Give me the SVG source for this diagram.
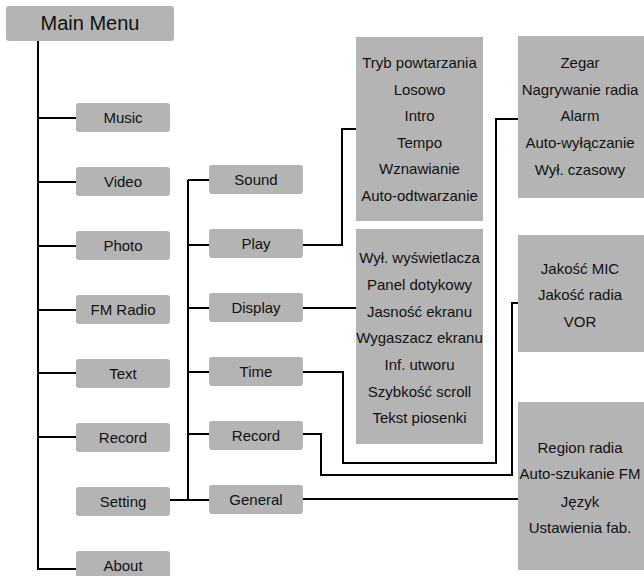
<svg xmlns="http://www.w3.org/2000/svg" width="644" height="576" viewBox="0 0 644 576">
  <style>
    .node { fill: #b4b4b4; }
    .lbl { font-family: "Liberation Sans", Arial, sans-serif; fill: #111; text-anchor: middle; }
    .t1 { font-size: 20px; }
    .t2 { font-size: 15px; }
    .t3 { font-size: 15px; }
    .wire { fill: none; stroke: #000; stroke-width: 2; }
  </style>
  <rect width="644" height="576" fill="#fff"/>

  <!-- connectors -->
  <g id="connectors" class="wire">
    <!-- main trunk -->
    <path d="M38,41 V569 H76"/>
    <path d="M38,118 H76 M38,182 H76 M38,246 H76 M38,310 H76 M38,373 H76 M38,437 H76"/>
    <!-- Setting trunk -->
    <path d="M170,500 H209"/>
    <path d="M188,180 V500"/>
    <path d="M188,180 H209 M188,245 H209 M188,308 H209 M188,372 H209 M188,434 H209"/>
    <!-- Play -> playback options -->
    <path d="M303,245 H342 V129 H357"/>
    <!-- Display -> display options -->
    <path d="M303,308 H357"/>
    <!-- Time -> clock options -->
    <path d="M303,372 H343 V463 H496 V119 H518"/>
    <!-- Record -> recording options -->
    <path d="M303,434 H321 V475 H512 V303 H518"/>
    <!-- General -> general options -->
    <path d="M303,499 H518"/>
  </g>

  <!-- root -->
  <g id="main-menu">
    <rect class="node" x="6" y="6" width="168" height="35" rx="3"/>
    <text class="lbl t1" x="90" y="30">Main Menu</text>
  </g>

  <!-- first level -->
  <g id="music">
    <rect class="node" x="76" y="103" width="94" height="29" rx="3"/>
    <text class="lbl t2" x="123" y="123">Music</text>
  </g>
  <g id="video">
    <rect class="node" x="76" y="167" width="94" height="29" rx="3"/>
    <text class="lbl t2" x="123" y="187">Video</text>
  </g>
  <g id="photo">
    <rect class="node" x="76" y="231" width="94" height="29" rx="3"/>
    <text class="lbl t2" x="123" y="251">Photo</text>
  </g>
  <g id="fm-radio">
    <rect class="node" x="76" y="295" width="94" height="29" rx="3"/>
    <text class="lbl t2" x="123" y="315">FM Radio</text>
  </g>
  <g id="text">
    <rect class="node" x="76" y="359" width="94" height="29" rx="3"/>
    <text class="lbl t2" x="123" y="379">Text</text>
  </g>
  <g id="record">
    <rect class="node" x="76" y="423" width="94" height="29" rx="3"/>
    <text class="lbl t2" x="123" y="443">Record</text>
  </g>
  <g id="setting">
    <rect class="node" x="76" y="487" width="94" height="29" rx="3"/>
    <text class="lbl t2" x="123" y="507">Setting</text>
  </g>
  <g id="about">
    <rect class="node" x="76" y="551" width="94" height="29" rx="3"/>
    <text class="lbl t2" x="123" y="571">About</text>
  </g>

  <!-- second level (Setting) -->
  <g id="sound">
    <rect class="node" x="209" y="165" width="94" height="29" rx="3"/>
    <text class="lbl t2" x="256" y="185">Sound</text>
  </g>
  <g id="play">
    <rect class="node" x="209" y="229" width="94" height="29" rx="3"/>
    <text class="lbl t2" x="256" y="249">Play</text>
  </g>
  <g id="display">
    <rect class="node" x="209" y="293" width="94" height="29" rx="3"/>
    <text class="lbl t2" x="256" y="313">Display</text>
  </g>
  <g id="time">
    <rect class="node" x="209" y="357" width="94" height="29" rx="3"/>
    <text class="lbl t2" x="256" y="377">Time</text>
  </g>
  <g id="setting-record">
    <rect class="node" x="209" y="421" width="94" height="29" rx="3"/>
    <text class="lbl t2" x="256" y="441">Record</text>
  </g>
  <g id="general">
    <rect class="node" x="209" y="485" width="94" height="29" rx="3"/>
    <text class="lbl t2" x="256" y="505">General</text>
  </g>

  <!-- option lists -->
  <g id="play-options">
    <rect class="node" x="356" y="37" width="127" height="184"/>
    <text class="lbl t3" x="419.5" y="68">Tryb powtarzania</text>
    <text class="lbl t3" x="419.5" y="95">Losowo</text>
    <text class="lbl t3" x="419.5" y="121">Intro</text>
    <text class="lbl t3" x="419.5" y="148">Tempo</text>
    <text class="lbl t3" x="419.5" y="174">Wznawianie</text>
    <text class="lbl t3" x="419.5" y="201">Auto-odtwarzanie</text>
  </g>
  <g id="display-options">
    <rect class="node" x="356" y="229" width="127" height="215"/>
    <text class="lbl t3" x="419.5" y="263">Wył. wyświetlacza</text>
    <text class="lbl t3" x="419.5" y="290">Panel dotykowy</text>
    <text class="lbl t3" x="419.5" y="317">Jasność ekranu</text>
    <text class="lbl t3" x="419.5" y="343">Wygaszacz ekranu</text>
    <text class="lbl t3" x="419.5" y="370">Inf. utworu</text>
    <text class="lbl t3" x="419.5" y="397">Szybkość scroll</text>
    <text class="lbl t3" x="419.5" y="423">Tekst piosenki</text>
  </g>
  <g id="time-options">
    <rect class="node" x="518" y="36" width="126" height="162"/>
    <text class="lbl t3" x="580" y="68">Zegar</text>
    <text class="lbl t3" x="580" y="95">Nagrywanie radia</text>
    <text class="lbl t3" x="580" y="121">Alarm</text>
    <text class="lbl t3" x="580" y="148">Auto-wyłączanie</text>
    <text class="lbl t3" x="580" y="175">Wył. czasowy</text>
  </g>
  <g id="record-options">
    <rect class="node" x="518" y="235" width="126" height="117"/>
    <text class="lbl t3" x="580" y="274">Jakość MIC</text>
    <text class="lbl t3" x="580" y="300">Jakość radia</text>
    <text class="lbl t3" x="580" y="327">VOR</text>
  </g>
  <g id="general-options">
    <rect class="node" x="518" y="402" width="126" height="168"/>
    <text class="lbl t3" x="580" y="453">Region radia</text>
    <text class="lbl t3" x="580" y="479">Auto-szukanie FM</text>
    <text class="lbl t3" x="580" y="507">Język</text>
    <text class="lbl t3" x="580" y="533">Ustawienia fab.</text>
  </g>
</svg>
